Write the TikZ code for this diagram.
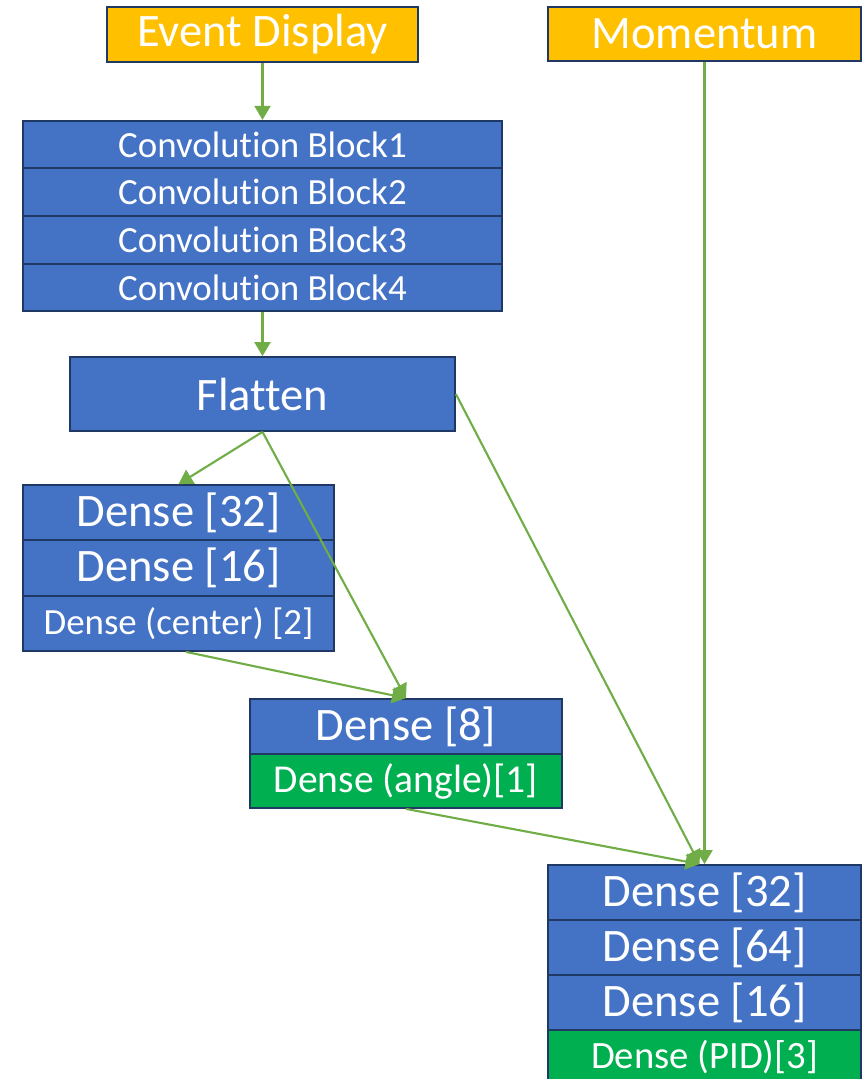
\documentclass[tikz,border=0pt]{standalone}
\usepackage{fontspec}
\setmainfont{Carlito}[Ligatures=NoCommon]
\usetikzlibrary{arrows.meta}

\definecolor{layerblue}{HTML}{4472C4}
\definecolor{outgreen}{HTML}{00B050}
\definecolor{inorange}{HTML}{FFC000}
\definecolor{edgenavy}{HTML}{1F3864}
\definecolor{flowgreen}{HTML}{70AD47}

\tikzset{
  layer/.style={draw=edgenavy, line width=1pt, fill=layerblue, text=white, inner sep=0pt},
  inbox/.style={layer, fill=inorange},
  outbox/.style={layer, fill=outgreen},
  big/.style={font=\fontsize{26.5}{30}\selectfont},
  mid/.style={font=\fontsize{21}{25}\selectfont},
  flow/.style={-{Triangle[length=2.8mm,width=3.2mm]}, draw=flowgreen, line width=1.2pt}
}

\begin{document}
\begin{tikzpicture}[x=0.2mm, y=-0.2mm]
\useasboundingbox (0,0) rectangle (864,1079);

% inputs
\node (ev) at (262.5,34.5) [inbox, big, minimum width=62.2mm, minimum height=11mm] {Event Display};
\node (mom) at (704.5,34) [inbox, big, minimum width=62.6mm, minimum height=10.8mm] {Momentum};

% convolution stack
\node (c1) at (262.5,144.5) [layer, mid, minimum width=95.8mm, minimum height=9.5mm] {Convolution Block1};
\node (c2) at (262.5,192) [layer, mid, minimum width=95.8mm, minimum height=9.6mm] {Convolution Block2};
\node (c3) at (262.5,240) [layer, mid, minimum width=95.8mm, minimum height=9.6mm] {Convolution Block3};
\node (c4) at (262.5,287.5) [layer, mid, minimum width=95.8mm, minimum height=9.5mm] {Convolution Block4};

\node (flat) at (262.5,394) [layer, big, minimum width=77mm, minimum height=14.8mm] {Flatten};

% center branch
\node (d32) at (178.5,512.5) [layer, big, minimum width=62.2mm, minimum height=11mm] {Dense [32]};
\node (d16) at (178.5,568) [layer, big, minimum width=62.2mm, minimum height=11.2mm] {Dense [16]};
\node (dc) at (178.5,623.5) [layer, mid, minimum width=62.2mm, minimum height=11mm] {Dense (center) [2]};

% angle branch
\node (d8) at (406,726.5) [layer, big, minimum width=62.4mm, minimum height=11mm] {Dense [8]};
\node (da) at (406,781) [outbox, font=\fontsize{22.5}{26}\selectfont, minimum width=62.4mm, minimum height=10.8mm] {Dense (angle)[1]};

% PID branch
\node (p32) at (704.5,892.5) [layer, big, minimum width=62.6mm, minimum height=11mm] {Dense [32]};
\node (p64) at (704.5,947.5) [layer, big, minimum width=62.6mm, minimum height=11mm] {Dense [64]};
\node (p16) at (704.5,1002.5) [layer, big, minimum width=62.6mm, minimum height=11mm] {Dense [16]};
\node (pid) at (704.5,1057.5) [outbox, font=\fontsize{22}{26}\selectfont, minimum width=62.6mm, minimum height=11mm] {Dense (PID)[3]};

\draw[flow] (ev) -- (c1);
\draw[flow] (c4) -- (flat);
\draw[flow] (flat.south) -- (d32.north);
\draw[flow] (flat.south) -- (d8.north);
\draw[flow] ([xshift=1.5mm]dc.south) -- (d8.north);
\draw[flow] (flat.east) -- ([xshift=-1mm]p32.north);
\draw[flow] (mom) -- (p32);
\draw[flow] (da.south) -- ([xshift=-1mm]p32.north);
\end{tikzpicture}
\end{document}
